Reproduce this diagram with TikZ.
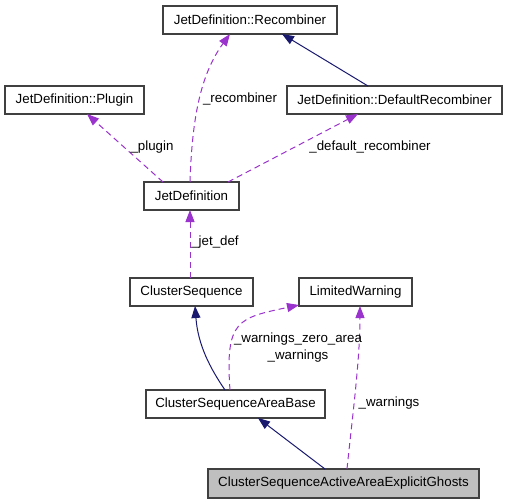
\documentclass[tikz,border=0pt]{standalone}
\usepackage{fontspec}
\setmainfont{Liberation Sans}
\usetikzlibrary{arrows.meta}
\definecolor{edgepurple}{HTML}{9A32CD}
\definecolor{edgenavy}{HTML}{191970}
\definecolor{boxgray}{HTML}{BFBFBF}
\definecolor{boxline}{HTML}{404040}
\tikzset{
  cbox/.style={draw=boxline, line width=1.1pt, fill=white, inner sep=0pt, outer sep=0pt,
    minimum height=28pt, font=\fontsize{13.3}{15}\selectfont, text=black},
  hbox/.style={cbox, fill=boxgray},
  lbl/.style={inner sep=0pt, font=\fontsize{13.3}{15}\selectfont, text=black},
  usage/.style={draw=edgepurple, line width=1pt, dash pattern=on 6pt off 4pt,
    -{Triangle[length=12pt,width=9pt,fill=edgepurple]}, shorten >=0pt},
  inherit/.style={draw=edgenavy, line width=1pt,
    -{Triangle[length=12pt,width=9pt,fill=edgenavy]}},
}
\begin{document}
\begin{tikzpicture}[x=1pt,y=-1pt]
\useasboundingbox (0,0) rectangle (507,504);
\node[cbox, minimum width=174pt] (rec) at (250,20) {JetDefinition::Recombiner};
\node[cbox, minimum width=139pt] (plugin) at (74.5,100) {JetDefinition::Plugin};
\node[cbox, minimum width=215pt] (dr) at (394.5,100) {JetDefinition::DefaultRecombiner};
\node[cbox, minimum width=95pt] (jd) at (191.5,196) {JetDefinition};
\node[cbox, minimum width=123pt] (cs) at (191.5,292) {ClusterSequence};
\node[cbox, minimum width=113pt] (lw) at (355.5,292) {LimitedWarning};
\node[cbox, minimum width=179pt] (csab) at (235.5,404) {ClusterSequenceAreaBase};
\node[hbox, minimum width=271pt, minimum height=29pt] (csaaeg) at (343.5,483.5) {ClusterSequenceActiveAreaExplicitGhosts};

% edges
\draw[usage] ([xshift=-1.5pt]jd.north) .. controls (192,120) and (200,75) .. ([xshift=-20pt]rec.south);
\draw[inherit] ([xshift=-26.5pt]dr.north) -- ([xshift=32pt]rec.south);
\draw[usage] ([xshift=-28.5pt]jd.north) -- ([xshift=12.5pt]plugin.south);
\draw[usage] ([xshift=36.5pt]jd.north) -- ([xshift=-36.5pt]dr.south);
\draw[usage] ([xshift=-1.5pt]cs.north) -- ([xshift=-1.5pt]jd.south);
\draw[inherit] ([xshift=-10.5pt]csab.north) .. controls (210,368) and (198,345) .. ([xshift=3.5pt]cs.south);
\draw[usage] ([xshift=-5.5pt]csab.north) .. controls (225,320) and (238,318) .. ([yshift=1pt]lw.south west);
\draw[inherit] ([xshift=-18.5pt]csaaeg.north) -- ([xshift=22.5pt]csab.south);
\draw[usage] ([xshift=3.5pt]csaaeg.north) .. controls (352,420) and (360,360) .. ([xshift=4.5pt]lw.south);

% labels
\node[lbl] (lrec) at (240,99) {\_recombiner};
\node[lbl] (lplug) at (152,147) {\_plugin};
\node[lbl] (ldr) at (370,147) {\_default\_recombiner};
\node[lbl] (ljd) at (215,242) {\_jet\_def};
\node[lbl] (lwz) at (298,339) {\_warnings\_zero\_area};
\node[lbl] (lw2) at (298,356) {\_warnings};
\node[lbl] (lw3) at (389,403) {\_warnings};
\end{tikzpicture}
\end{document}
